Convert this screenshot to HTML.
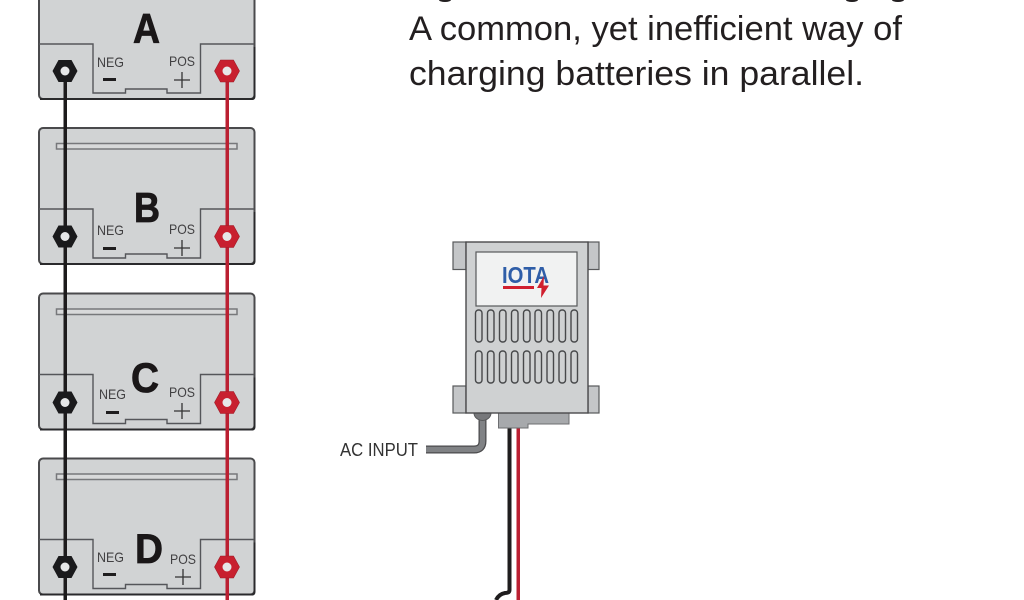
<!DOCTYPE html>
<html><head><meta charset="utf-8"><style>
html,body{margin:0;padding:0;background:#fff;width:1024px;height:600px;overflow:hidden}
svg{display:block}
text{font-family:"Liberation Sans",sans-serif}
.l{font-size:14px;fill:#414042}
.L{font-size:42px;font-weight:bold;fill:#1a1718;stroke:#1a1718;stroke-width:.8px}
.t{font-size:34px;fill:#231f20}
</style></head><body>
<svg width="1024" height="600" viewBox="0 0 1024 600" xmlns="http://www.w3.org/2000/svg">
<defs>
<g id="bat">
<rect x="39" y="0" width="215.500" height="136" rx="4" fill="#d1d3d4" stroke="#4a4a4c" stroke-width="2"/>
<path d="M40 136 H252 Q254.500 136 254.500 133 V84" fill="none" stroke="#2a2a2c" stroke-width="2"/>
<path d="M39 81 H93 V130 H125.500 V126 H167 V130 H200.500 V81 H254" fill="none" stroke="#55565a" stroke-width="1.400"/>
<rect x="56.500" y="15.500" width="180.500" height="5.500" fill="#d8d9da" stroke="#77787b" stroke-width="1.500"/>
</g>
<g id="nb">
<path d="M-12.500 0 L-6.500 -11 H6.500 L12.500 0 L6.500 11 H-6.500Z" fill="#1a1a1c"/>
<circle r="4.500" fill="#e6e7e8"/>
</g>
<g id="nr">
<path d="M-12.500 0 L-6.500 -11 H6.500 L12.500 0 L6.500 11 H-6.500Z" fill="#c8202f" stroke="#a01c28" stroke-width=".6"/>
<circle r="4.500" fill="#e6e7e8"/>
</g>
<rect id="s" width="6.500" height="32" rx="3" fill="#cfd1d2" stroke="#47484a" stroke-width="1.400"/>
</defs>

<!-- batteries -->
<use href="#bat" y="-37"/>
<use href="#bat" y="128"/>
<use href="#bat" y="293.500"/>
<use href="#bat" y="458.500"/>

<!-- wires -->
<rect x="63.500" y="71" width="3.500" height="529" fill="#1d1b1c"/>
<rect x="225.500" y="71" width="3.500" height="529" fill="#bb2032"/>

<!-- nuts -->
<use href="#nb" x="65" y="71"/><use href="#nr" x="227" y="71"/>
<use href="#nb" x="65" y="236.500"/><use href="#nr" x="227" y="236.500"/>
<use href="#nb" x="65" y="402.500"/><use href="#nr" x="227" y="402.500"/>
<use href="#nb" x="65" y="567"/><use href="#nr" x="227" y="567"/>

<!-- letters -->
<text class="L" x="133" y="43" textLength="27" lengthAdjust="spacingAndGlyphs">A</text>
<text class="L" x="134" y="222" textLength="26" lengthAdjust="spacingAndGlyphs">B</text>
<text class="L" x="131" y="392" textLength="28" lengthAdjust="spacingAndGlyphs">C</text>
<text class="L" x="135" y="563" textLength="28" lengthAdjust="spacingAndGlyphs">D</text>

<!-- terminal labels -->
<text class="l" x="97" y="67" textLength="27" lengthAdjust="spacingAndGlyphs">NEG</text><text class="l" x="169" y="66" textLength="26" lengthAdjust="spacingAndGlyphs">POS</text>
<rect x="103" y="78" width="13" height="3" fill="#1f1d1e"/><path d="M174 80 H190 M182 72 V88" stroke="#333" stroke-width="1.300"/>

<text class="l" x="97" y="235" textLength="27" lengthAdjust="spacingAndGlyphs">NEG</text><text class="l" x="169" y="234" textLength="26" lengthAdjust="spacingAndGlyphs">POS</text>
<rect x="103" y="247" width="13" height="3" fill="#1f1d1e"/><path d="M174 248 H190 M182 240 V256" stroke="#333" stroke-width="1.300"/>

<text class="l" x="99" y="399" textLength="27" lengthAdjust="spacingAndGlyphs">NEG</text><text class="l" x="169" y="397" textLength="26" lengthAdjust="spacingAndGlyphs">POS</text>
<rect x="106" y="411" width="13" height="3" fill="#1f1d1e"/><path d="M174 411 H190 M182 403 V419" stroke="#333" stroke-width="1.300"/>

<text class="l" x="97" y="562" textLength="27" lengthAdjust="spacingAndGlyphs">NEG</text><text class="l" x="170" y="564" textLength="26" lengthAdjust="spacingAndGlyphs">POS</text>
<rect x="103" y="573" width="13" height="3" fill="#1f1d1e"/><path d="M175 577 H191 M183 569 V585" stroke="#333" stroke-width="1.300"/>

<!-- heading -->
<ellipse cx="445" cy="0" rx="6" ry="2" fill="#231f20"/>
<ellipse cx="852" cy="0" rx="6" ry="2" fill="#231f20"/>
<ellipse cx="898" cy="0" rx="6" ry="2" fill="#231f20"/>
<text class="t" x="409" y="40" textLength="493" lengthAdjust="spacingAndGlyphs">A common, yet inefficient way of</text>
<text class="t" x="409" y="85" textLength="455" lengthAdjust="spacingAndGlyphs">charging batteries in parallel.</text>

<!-- charger wires -->
<path d="M509.500 425 V590 Q509.500 593 505 593 Q499 594 496 600" fill="none" stroke="#1f1d1e" stroke-width="4"/>
<rect x="516.500" y="425" width="3.500" height="175" fill="#bb2032"/>

<!-- AC cable -->
<path d="M426 449.500 H474 Q482.500 449.500 482.500 441 V416" fill="none" stroke="#4a4a4c" stroke-width="8"/>
<path d="M426 449.500 H474 Q482.500 449.500 482.500 441 V416" fill="none" stroke="#808285" stroke-width="5.500"/>
<path d="M474 413 A8.500 7.500 0 0 0 491 413Z" fill="#77787b" stroke="#58595b" stroke-width="1"/>

<!-- connector -->
<path d="M498.500 413 H569 V424 H528 V428 H498.500Z" fill="#a7a9ac" stroke="#6d6e71" stroke-width="1"/>

<!-- charger tabs -->
<rect x="453" y="242" width="13" height="27.500" fill="#c4c6c8" stroke="#58595b" stroke-width="1.200"/>
<rect x="588" y="242" width="11" height="27.500" fill="#c4c6c8" stroke="#58595b" stroke-width="1.200"/>
<rect x="453" y="386" width="13" height="27" fill="#c4c6c8" stroke="#58595b" stroke-width="1.200"/>
<rect x="588" y="386" width="11" height="27" fill="#c4c6c8" stroke="#58595b" stroke-width="1.200"/>

<!-- charger body -->
<rect x="466" y="242" width="122" height="171" fill="#cfd1d2" stroke="#4a4a4c" stroke-width="1.400"/>
<rect x="476" y="252" width="101" height="54" fill="#f1f2f2" stroke="#58595b" stroke-width="1.200"/>

<!-- vents -->
<use href="#s" x="475.500" y="310"/><use href="#s" x="487.500" y="310"/><use href="#s" x="499.500" y="310"/><use href="#s" x="511.500" y="310"/><use href="#s" x="523.500" y="310"/><use href="#s" x="535" y="310"/><use href="#s" x="547" y="310"/><use href="#s" x="559" y="310"/><use href="#s" x="571" y="310"/>
<use href="#s" x="475.500" y="351"/><use href="#s" x="487.500" y="351"/><use href="#s" x="499.500" y="351"/><use href="#s" x="511.500" y="351"/><use href="#s" x="523.500" y="351"/><use href="#s" x="535" y="351"/><use href="#s" x="547" y="351"/><use href="#s" x="559" y="351"/><use href="#s" x="571" y="351"/>

<!-- logo -->
<text x="502" y="283" font-size="23" font-weight="bold" fill="#2f5ea8" textLength="47" lengthAdjust="spacingAndGlyphs">IOTA</text>
<rect x="503" y="286" width="31" height="3" fill="#d0202f"/>
<path d="M544 276 L537 288 L541.500 288 L541 298 L549 285.500 L543.500 285.500Z" fill="#d0202f"/>

<!-- AC label -->
<text x="340" y="456" font-size="18" fill="#333" textLength="78" lengthAdjust="spacingAndGlyphs">AC INPUT</text>
</svg>
</body></html>
